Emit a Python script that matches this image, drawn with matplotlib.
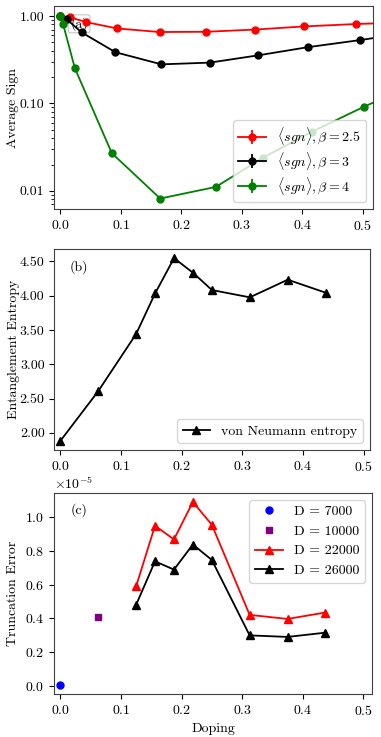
import numpy as np
import matplotlib
matplotlib.use("Agg")
import matplotlib.pyplot as plt
from matplotlib.ticker import FormatStrFormatter

plt.rcParams['font.family'] = 'serif'
plt.rcParams['font.serif'] = ['cmr10']
plt.rcParams['mathtext.fontset'] = 'cm'
plt.rcParams['axes.formatter.use_mathtext'] = True
plt.rcParams['font.size'] = 10
plt.rcParams['xtick.labelsize'] = 10
plt.rcParams['ytick.labelsize'] = 10
plt.rcParams['axes.labelsize'] = 10
plt.rcParams['legend.fontsize'] = 10
plt.rcParams['axes.edgecolor'] = '0.25'

# (a) average sign
dop_b25 = [0.0, 0.016, 0.043, 0.094, 0.164, 0.241, 0.322, 0.403, 0.489, 0.58]
sign_b25 = [1.0, 0.965, 0.85, 0.72, 0.656, 0.66, 0.70, 0.76, 0.81, 0.85]
dop_b3 = [0.0, 0.0105, 0.035, 0.091, 0.167, 0.247, 0.327, 0.409, 0.495, 0.58]
sign_b3 = [1.0, 0.916, 0.65, 0.385, 0.28, 0.293, 0.355, 0.44, 0.53, 0.65]
dop_b4 = [0.0, 0.0044, 0.024, 0.085, 0.165, 0.257, 0.335, 0.415, 0.501, 0.58]
sign_b4 = [1.0, 0.81, 0.252, 0.027, 0.00817, 0.0111, 0.024, 0.0472, 0.0912, 0.16]

# (b) entanglement entropy
dop_ee = [0.0, 0.0625, 0.125, 0.15625, 0.1875, 0.21875, 0.25, 0.3125, 0.375, 0.4375]
entropy = [1.884, 2.61, 3.444, 4.035, 4.548, 4.335, 4.083, 3.977, 4.234, 4.045]

# (c) truncation error
dop_d7000 = [0.0]
err_d7000 = [0.008e-5]
dop_d10000 = [0.0625]
err_d10000 = [0.41e-5]
dop_d = [0.125, 0.15625, 0.1875, 0.21875, 0.25, 0.3125, 0.375, 0.4375]
err_d22000 = [0.589e-5, 0.947e-5, 0.866e-5, 1.087e-5, 0.953e-5, 0.421e-5, 0.397e-5, 0.435e-5]
err_d26000 = [0.480e-5, 0.737e-5, 0.688e-5, 0.836e-5, 0.745e-5, 0.300e-5, 0.291e-5, 0.316e-5]

fig = plt.figure(figsize=(3.81, 7.37), dpi=100)
ax1 = fig.add_axes([0.1426, 0.7164, 0.837, 0.2754])
ax2 = fig.add_axes([0.1426, 0.3894, 0.829, 0.2727])
ax3 = fig.add_axes([0.1426, 0.0583, 0.833, 0.2730])

ms = 5
lw = 1.3

# panel a
ax1.errorbar(dop_b25, sign_b25, yerr=np.zeros(len(sign_b25)), color='red', marker='o', ms=ms, lw=lw,
             label=r'$\langle sgn \rangle, \beta = 2.5$')
ax1.errorbar(dop_b3, sign_b3, yerr=np.zeros(len(sign_b3)), color='black', marker='o', ms=ms, lw=lw,
             label=r'$\langle sgn \rangle, \beta = 3$')
ax1.errorbar(dop_b4, sign_b4, yerr=np.zeros(len(sign_b4)), color='green', marker='o', ms=ms, lw=lw,
             label=r'$\langle sgn \rangle, \beta = 4$')
ax1.set_yscale('log')
ax1.set_ylim(0.0062, 1.3)
ax1.set_xlim(-0.01, 0.517)
ax1.set_yticks([0.01, 0.1, 1.0])
ax1.yaxis.set_major_formatter(FormatStrFormatter('%.2f'))
ax1.set_ylabel('Average Sign')
ax1.yaxis.set_label_coords(-0.11, 0.5)
ax1.text(0.05, 0.895, '(a)', transform=ax1.transAxes, zorder=1,
         bbox=dict(boxstyle='round,pad=0.15', fc='white', ec='0.7', lw=0.6))
ax1.legend(loc='lower right', labelspacing=0.25)

# panel b
ax2.plot(dop_ee, entropy, color='black', marker='^', ms=ms + 0.5, lw=lw, label='von Neumann entropy')
ax2.set_xlim(-0.01, 0.511)
ax2.yaxis.set_major_formatter(FormatStrFormatter('%.2f'))
ax2.set_ylabel('Entanglement Entropy')
ax2.yaxis.set_label_coords(-0.11, 0.5)
ax2.text(0.05, 0.895, '(b)', transform=ax2.transAxes)
ax2.legend(loc='lower right')

# panel c
ax3.plot(dop_d7000, err_d7000, 'o', color='blue', ms=ms, label='D = 7000')
ax3.plot(dop_d10000, err_d10000, 's', color='purple', ms=ms, label='D = 10000')
ax3.plot(dop_d, err_d22000, color='red', marker='^', ms=ms + 0.5, lw=lw, label='D = 22000')
ax3.plot(dop_d, err_d26000, color='black', marker='^', ms=ms + 0.5, lw=lw, label='D = 26000')
ax3.set_xlim(-0.01, 0.514)
ax3.set_ylabel('Truncation Error')
ax3.yaxis.set_label_coords(-0.11, 0.5)
ax3.set_xlabel('Doping')
ax3.text(0.05, 0.895, '(c)', transform=ax3.transAxes)
ax3.legend(loc='upper right')

fig.savefig('out.png', dpi=100)
